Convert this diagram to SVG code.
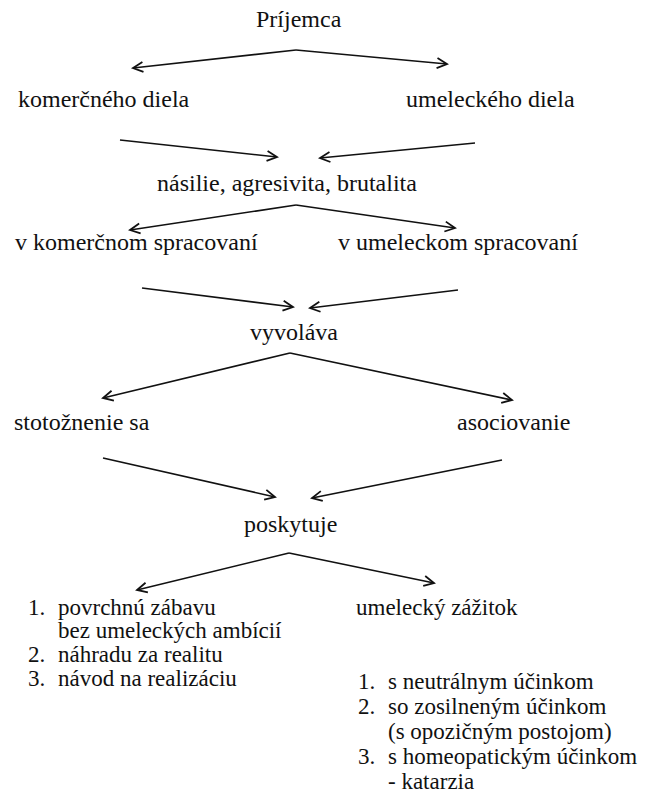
<svg xmlns="http://www.w3.org/2000/svg" width="653" height="800" viewBox="0 0 653 800">
<defs>
<style>
text{font-family:"Liberation Serif","Times New Roman",serif;font-size:24px;fill:#111}
.li{font-size:23px}
.c{fill:none;stroke:#111;stroke-width:1.6}
</style>
<marker id="arr" viewBox="-12 -7 14 14" refX="0" refY="0" markerWidth="14" markerHeight="14" markerUnits="userSpaceOnUse" orient="auto">
<path d="M-10,-5 L0,0 L-10,5" fill="none" stroke="#111" stroke-width="1.8"/>
</marker>
</defs>
<rect width="653" height="800" fill="#fff"/>
<g id="connectors">
<path class="c" d="M296,50 L133,68" marker-end="url(#arr)"/>
<path class="c" d="M296,50 L447,64" marker-end="url(#arr)"/>
<path class="c" d="M120,140 L277,157" marker-end="url(#arr)"/>
<path class="c" d="M475,143 L320,158" marker-end="url(#arr)"/>
<path class="c" d="M296,205 L130,230" marker-end="url(#arr)"/>
<path class="c" d="M296,205 L455,228" marker-end="url(#arr)"/>
<path class="c" d="M142,288 L293,307" marker-end="url(#arr)"/>
<path class="c" d="M458,290 L310,308" marker-end="url(#arr)"/>
<path class="c" d="M290,353 L103,398" marker-end="url(#arr)"/>
<path class="c" d="M290,353 L512,400" marker-end="url(#arr)"/>
<path class="c" d="M103,458 L275,497" marker-end="url(#arr)"/>
<path class="c" d="M502,460 L312,498" marker-end="url(#arr)"/>
<path class="c" d="M289,553 L137,590" marker-end="url(#arr)"/>
<path class="c" d="M289,553 L434,583" marker-end="url(#arr)"/>
</g>
<g id="n_prijemca"><text x="256" y="27">Príjemca</text></g>
<g id="n_komercneho"><text x="18" y="107">komerčného diela</text></g>
<g id="n_umeleckeho"><text x="406" y="107">umeleckého diela</text></g>
<g id="n_nasilie"><text x="157" y="191">násilie, agresivita, brutalita</text></g>
<g id="n_vkomercnom"><text x="15" y="250">v komerčnom spracovaní</text></g>
<g id="n_vumeleckom"><text x="338" y="250">v umeleckom spracovaní</text></g>
<g id="n_vyvolava"><text x="250" y="340">vyvoláva</text></g>
<g id="n_stotoznenie"><text x="14" y="430">stotožnenie sa</text></g>
<g id="n_asociovanie"><text x="457" y="430">asociovanie</text></g>
<g id="n_poskytuje"><text x="244" y="532">poskytuje</text></g>
<g id="n_zabava">
<text class="li" x="28" y="615">1.</text><text class="li" x="58" y="615">povrchnú zábavu</text>
<text class="li" x="58" y="638">bez umeleckých ambícií</text>
<text class="li" x="28" y="662">2.</text><text class="li" x="58" y="662">náhradu za realitu</text>
<text class="li" x="28" y="686">3.</text><text class="li" x="58" y="686">návod na realizáciu</text>
</g>
<g id="n_zazitok">
<text class="li" x="356" y="615">umelecký zážitok</text>
<text class="li" x="358" y="689">1.</text><text class="li" x="388" y="689">s neutrálnym účinkom</text>
<text class="li" x="358" y="714">2.</text><text class="li" x="388" y="714">so zosilneným účinkom</text>
<text class="li" x="388" y="739">(s opozičným postojom)</text>
<text class="li" x="358" y="764">3.</text><text class="li" x="388" y="764">s homeopatickým účinkom</text>
<text class="li" x="388" y="789">- katarzia</text>
</g>
</svg>
